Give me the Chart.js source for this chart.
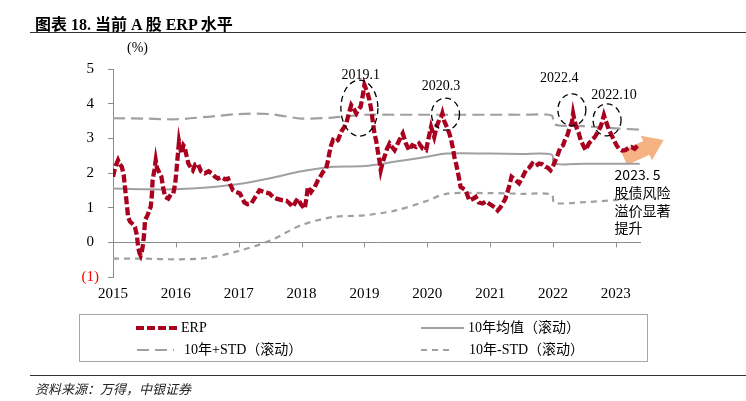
<!DOCTYPE html>
<html>
<head>
<meta charset="utf-8">
<script src="https://cdn.jsdelivr.net/npm/chart.js@4.4.1/dist/chart.umd.min.js"></script>
<style>
  html,body{margin:0;padding:0;background:#fff;}
  #wrap{position:relative;width:746px;height:401px;overflow:hidden;font-family:"Liberation Serif","Noto Sans CJK SC",serif;color:#000;}
  #c{position:absolute;left:0;top:0;}
  .abs{position:absolute;white-space:nowrap;}
  #title{left:35px;top:11px;font-size:16px;font-weight:bold;}
  .hr{position:absolute;left:30px;width:716px;height:0;border-top:1px solid #333;}
  #unit{left:127px;top:40px;font-size:14px;}
  #legend{position:absolute;left:79px;top:314px;width:567px;height:46px;border:1px solid #a6a6a6;}
  .lg{position:absolute;font-size:14px;line-height:16px;}
  .lg svg{position:absolute;}
  #src{left:35px;top:379px;font-size:13px;font-style:italic;color:#222;font-family:"Noto Sans CJK SC",sans-serif;}
</style>
</head>
<body>
<div id="wrap">
  <canvas id="c" width="746" height="401"></canvas>
  <div id="title" class="abs">图表 18. 当前 A 股 ERP 水平</div>
  <div class="hr" style="top:32px;"></div>
  <div id="unit" class="abs">(%)</div>
  <div id="legend"></div>
  <div class="hr" style="top:375px;"></div>
  <div id="src" class="abs">资料来源：万得，中银证券</div>
</div>
<script>
// ---------- data ----------
const erpT = [2015.00,2015.04,2015.08,2015.11,2015.14,2015.17,2015.19,2015.22,2015.24,2015.27,2015.30,2015.33,2015.35,2015.38,2015.40,2015.42,2015.44,2015.46,2015.48,2015.50,2015.51,2015.54,2015.56,2015.58,2015.60,2015.62,2015.63,2015.66,2015.68,2015.70,2015.72,2015.75,2015.77,2015.80,2015.83,2015.86,2015.88,2015.92,2015.96,2015.99,2016.01,2016.03,2016.05,2016.07,2016.09,2016.12,2016.14,2016.17,2016.20,2016.24,2016.27,2016.31,2016.35,2016.40,2016.46,2016.52,2016.57,2016.62,2016.67,2016.72,2016.78,2016.83,2016.87,2016.91,2016.96,2017.02,2017.05,2017.09,2017.14,2017.20,2017.26,2017.33,2017.40,2017.49,2017.55,2017.60,2017.70,2017.76,2017.81,2017.86,2017.90,2017.94,2017.99,2018.05,2018.08,2018.10,2018.15,2018.21,2018.26,2018.30,2018.34,2018.39,2018.42,2018.44,2018.47,2018.50,2018.54,2018.58,2018.63,2018.67,2018.71,2018.75,2018.79,2018.83,2018.87,2018.91,2018.94,2018.97,2019.00,2019.03,2019.05,2019.08,2019.11,2019.14,2019.16,2019.19,2019.21,2019.24,2019.26,2019.29,2019.32,2019.36,2019.40,2019.44,2019.48,2019.53,2019.58,2019.61,2019.66,2019.71,2019.76,2019.82,2019.87,2019.93,2019.98,2020.02,2020.06,2020.09,2020.11,2020.15,2020.19,2020.22,2020.24,2020.27,2020.31,2020.35,2020.38,2020.41,2020.43,2020.46,2020.48,2020.51,2020.53,2020.57,2020.61,2020.64,2020.67,2020.72,2020.77,2020.82,2020.88,2020.93,2020.98,2021.04,2021.08,2021.12,2021.16,2021.20,2021.24,2021.27,2021.30,2021.34,2021.40,2021.46,2021.52,2021.57,2021.62,2021.67,2021.72,2021.78,2021.83,2021.88,2021.92,2021.96,2022.00,2022.04,2022.08,2022.12,2022.16,2022.19,2022.23,2022.27,2022.30,2022.32,2022.35,2022.37,2022.41,2022.44,2022.48,2022.52,2022.57,2022.62,2022.67,2022.73,2022.77,2022.81,2022.85,2022.89,2022.93,2022.97,2023.01,2023.05,2023.10,2023.15,2023.20,2023.25,2023.30,2023.35,2023.38];
const erpV = [1.89,2.20,2.37,2.25,2.18,1.95,1.60,1.10,0.73,0.60,0.55,0.50,0.44,0.20,-0.13,-0.30,-0.38,-0.25,-0.04,0.35,0.64,0.75,0.83,0.95,1.02,1.40,1.79,2.10,2.37,2.15,2.08,1.95,1.89,1.55,1.31,1.28,1.26,1.38,1.41,1.70,2.08,2.50,2.90,2.70,2.56,2.80,2.75,2.50,2.27,2.15,2.08,2.25,2.27,2.05,1.99,2.05,1.99,1.90,1.84,1.88,1.82,1.84,1.65,1.50,1.45,1.41,1.30,1.15,1.10,1.12,1.30,1.50,1.45,1.41,1.30,1.26,1.21,1.20,1.12,1.02,1.15,1.26,1.10,0.97,1.30,1.60,1.45,1.60,1.79,1.90,2.03,2.13,2.35,2.56,2.80,2.95,2.90,2.95,3.19,3.30,3.43,3.70,3.96,3.85,3.72,3.85,3.91,4.20,4.54,4.40,4.30,4.10,3.81,3.40,3.14,2.90,2.66,2.35,2.08,2.30,2.47,2.70,2.85,2.75,2.66,2.85,3.04,3.14,2.85,2.66,2.80,2.75,2.85,2.70,2.66,3.00,3.33,3.15,3.04,3.35,3.53,3.60,3.72,3.50,3.33,3.15,2.95,2.70,2.47,2.25,2.08,1.80,1.60,1.55,1.50,1.35,1.21,1.25,1.31,1.15,1.12,1.18,1.12,1.05,1.00,0.92,1.00,1.12,1.25,1.41,1.60,1.89,1.80,1.70,1.90,2.08,2.15,2.27,2.20,2.27,2.25,2.18,2.15,2.08,2.20,2.37,2.55,2.75,2.80,2.95,3.10,3.33,3.45,3.72,3.45,3.33,3.15,2.95,2.80,2.66,2.85,2.95,3.05,3.24,3.40,3.67,3.45,3.24,3.10,2.95,2.80,2.70,2.65,2.66,2.72,2.75,2.70,2.80,2.80];

const bandT  = [2015,2015.5,2016,2016.5,2017,2017.5,2018,2018.5,2019,2019.5,2020,2020.3,2021,2021.5,2021.98,2022.02,2022.5,2023,2023.38];
const meanV  = [1.55,1.53,1.53,1.58,1.68,1.85,2.05,2.18,2.20,2.33,2.47,2.56,2.56,2.55,2.53,2.27,2.27,2.27,2.27];
const upperV = [3.58,3.57,3.55,3.62,3.70,3.70,3.57,3.60,3.68,3.68,3.68,3.68,3.68,3.68,3.66,3.40,3.35,3.29,3.25];
const lowerV = [-0.47,-0.47,-0.49,-0.45,-0.25,0.05,0.50,0.73,0.78,0.92,1.20,1.40,1.42,1.40,1.38,1.14,1.16,1.22,1.28];

const xTickYears = [2015,2016,2017,2018,2019,2020,2021,2022,2023];
const seriesNames = ['ERP','10年均值（滚动）','10年+STD（滚动）','10年-STD（滚动）'];

// ---------- styles ----------
const RED = '#A8001E';
const GRAY = '#A0A0A0';
const SERIF = '"Liberation Serif","Noto Sans CJK SC",serif';

const pts = (T, V) => T.map((t, i) => ({x: t, y: V[i]}));

// annotation placement in data units
const circles = [
  {text:'2019.1',  cx:2018.92, cy:3.87, rx:18.5, ry:28, tx:2018.94, ty:4.83},
  {text:'2020.3',  cx:2020.29, cy:3.70, rx:14,   ry:16, tx:2020.22, ty:4.50},
  {text:'2022.4',  cx:2022.30, cy:3.82, rx:14,   ry:16, tx:2022.10, ty:4.74},
  {text:'2022.10', cx:2022.86, cy:3.53, rx:14,   ry:16, tx:2022.97, ty:4.25}
];
const arrowFrom = {x:2023.13, y:2.43};
const arrowTo   = {x:2023.76, y:2.95};
const noteAnchor = {x:2022.98, y:1.94};
const noteLines = ['2023. 5','股债风险','溢价显著','提升'];

const annot = {
  id: 'annot',
  beforeDatasetsDraw(chart) {
    const {ctx, scales:{x, y}} = chart;
    // orange arrow
    const x0 = x.getPixelForValue(arrowFrom.x), y0 = y.getPixelForValue(arrowFrom.y);
    const x1 = x.getPixelForValue(arrowTo.x),   y1 = y.getPixelForValue(arrowTo.y);
    const dx = x1 - x0, dy = y1 - y0, L = Math.hypot(dx, dy);
    const ux = dx / L, uy = dy / L, nx = -uy, ny = ux;
    const head = 19, hw = 13.5, sw = 7.5;
    const bx = x1 - ux * head, by = y1 - uy * head;
    ctx.save();
    ctx.fillStyle = 'rgba(244,170,118,0.9)';
    ctx.beginPath();
    ctx.moveTo(x0 + nx * sw, y0 + ny * sw);
    ctx.lineTo(bx + nx * sw, by + ny * sw);
    ctx.lineTo(bx + nx * hw, by + ny * hw);
    ctx.lineTo(x1, y1);
    ctx.lineTo(bx - nx * hw, by - ny * hw);
    ctx.lineTo(bx - nx * sw, by - ny * sw);
    ctx.lineTo(x0 - nx * sw, y0 - ny * sw);
    ctx.closePath();
    ctx.fill();
    ctx.restore();
  },
  afterDatasetsDraw(chart) {
    const {ctx, scales:{x, y}} = chart;
    ctx.save();
    // tick marks on the zero line
    const zy = y.getPixelForValue(0);
    ctx.strokeStyle = '#8c8c8c';
    ctx.lineWidth = 1;
    ctx.beginPath();
    xTickYears.forEach(t => {
      if (t === x.min) return;
      const px = Math.round(x.getPixelForValue(t)) + 0.5;
      ctx.moveTo(px, zy);
      ctx.lineTo(px, zy + 5);
    });
    ctx.stroke();
    // dashed ellipses and labels
    ctx.strokeStyle = '#000';
    ctx.lineWidth = 1.3;
    ctx.setLineDash([6, 4]);
    ctx.fillStyle = '#000';
    ctx.font = '14px ' + SERIF;
    ctx.textAlign = 'center';
    ctx.textBaseline = 'middle';
    circles.forEach(c => {
      ctx.beginPath();
      ctx.ellipse(x.getPixelForValue(c.cx), y.getPixelForValue(c.cy), c.rx, c.ry, 0, 0, Math.PI * 2);
      ctx.stroke();
    });
    ctx.setLineDash([]);
    circles.forEach(c => {
      ctx.fillText(c.text, x.getPixelForValue(c.tx), y.getPixelForValue(c.ty));
    });
    // side note
    ctx.textAlign = 'left';
    ctx.font = '14px "Noto Sans CJK SC",sans-serif';
    const nx0 = x.getPixelForValue(noteAnchor.x), ny0 = y.getPixelForValue(noteAnchor.y);
    noteLines.forEach((s, i) => ctx.fillText(s, nx0, ny0 + i * 17.6));
    ctx.restore();
  }
};

new Chart(document.getElementById('c'), {
  type: 'line',
  data: {
    datasets: [
      {label: seriesNames[1], data: pts(bandT, meanV), borderColor: GRAY, borderWidth: 2, pointRadius: 0, tension: 0.3, order: 3},
      {label: seriesNames[2], data: pts(bandT, upperV), borderColor: GRAY, borderWidth: 2.2, borderDash: [12, 6], pointRadius: 0, tension: 0.3, order: 3},
      {label: seriesNames[3], data: pts(bandT, lowerV), borderColor: GRAY, borderWidth: 2.2, borderDash: [6, 5], pointRadius: 0, tension: 0.3, order: 3},
      {label: seriesNames[0], data: pts(erpT, erpV), borderColor: RED, borderWidth: 4.3, borderDash: [8, 3], pointRadius: 0, tension: 0, order: 1}
    ]
  },
  options: {
    responsive: false,
    animation: false,
    events: [],
    layout: {padding: {left: 0, top: 69, right: 105, bottom: 0}},
    plugins: {legend: {display: false}, tooltip: {enabled: false}},
    scales: {
      x: {
        type: 'linear', min: 2015, max: 2023.4,
        grid: {display: false, drawTicks: false},
        border: {display: false},
        afterBuildTicks: s => { s.ticks = xTickYears.map(v => ({value: v})); },
        ticks: {
          autoSkip: false, maxRotation: 0, padding: 8,
          color: '#000', font: {family: SERIF, size: 15},
          callback: v => String(v)
        },
        afterFit: s => { s.height = 124; }
      },
      y: {
        min: -1, max: 5,
        grid: {
          color: c => (c.tick && c.tick.value === 0) ? '#8c8c8c' : 'rgba(0,0,0,0)',
          tickColor: '#8c8c8c', tickLength: 5, lineWidth: 1
        },
        border: {display: true, color: '#8c8c8c', width: 1},
        ticks: {
          stepSize: 1, padding: 9, crossAlign: 'center',
          color: c => c.tick.value < 0 ? '#FF0000' : '#000',
          font: {family: SERIF, size: 15},
          callback: v => v < 0 ? '(' + (-v) + ')' : String(v)
        },
        afterFit: s => { s.width = 113; }
      }
    }
  },
  plugins: [annot]
});

// ---------- legend (HTML) ----------
const legendItems = [
  {name: seriesNames[0], left: 56, top: 5,  sw: 41, color: RED,  width: 4,   dash: '8,3'},
  {name: seriesNames[1], left: 341, top: 5, sw: 43, color: GRAY, width: 2,   dash: ''},
  {name: seriesNames[2], left: 57, top: 27, sw: 37, color: GRAY, width: 2.2, dash: '12,6', gap: 10},
  {name: seriesNames[3], left: 341, top: 27, sw: 33, color: GRAY, width: 2.2, dash: '6,5', gap: 15}
];
const lg = document.getElementById('legend');
legendItems.forEach(it => {
  const d = document.createElement('div');
  d.className = 'lg';
  d.style.left = it.left + 'px';
  d.style.top = it.top + 'px';
  const gap = it.gap || 4;
  d.innerHTML = '<svg width="' + it.sw + '" height="10" style="left:0;top:3px">' +
    '<line x1="0" y1="5" x2="' + it.sw + '" y2="5" stroke="' + it.color + '" stroke-width="' + it.width + '"' +
    (it.dash ? ' stroke-dasharray="' + it.dash + '"' : '') + '/></svg>' +
    '<span style="margin-left:' + (it.sw + gap) + 'px">' + it.name + '</span>';
  lg.appendChild(d);
});
</script>
</body>
</html>
